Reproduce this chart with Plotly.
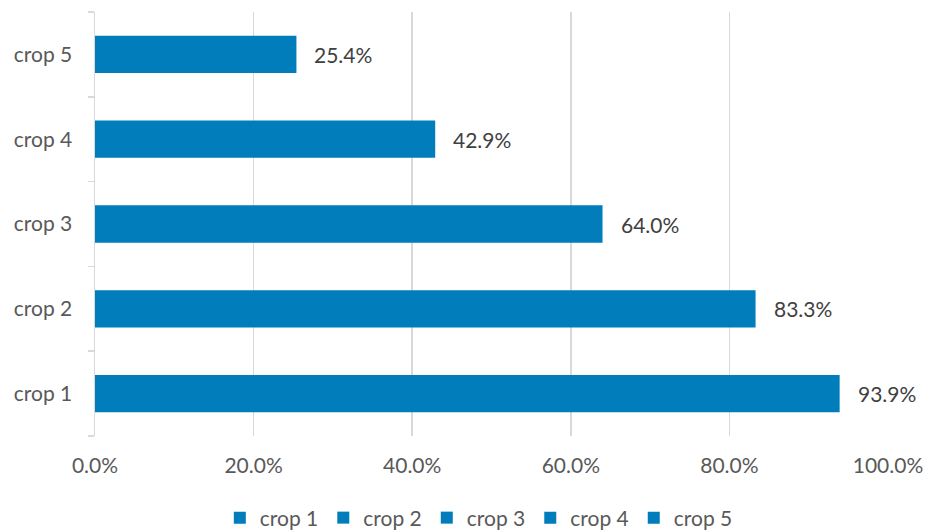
import plotly.graph_objects as go

categories = ["crop 1", "crop 2", "crop 3", "crop 4", "crop 5"]
values = [0.939, 0.833, 0.640, 0.429, 0.254]
labels = ["93.9%", "83.3%", "64.0%", "42.9%", "25.4%"]
x_ticks = [0, 0.2, 0.4, 0.6, 0.8, 1.0]
x_tick_labels = ["0.0%", "20.0%", "40.0%", "60.0%", "80.0%", "100.0%"]

BAR = "#007DBA"
FONT = "Lato"
FS = 21

fig = go.Figure()
for cat, val in zip(categories, values):
    fig.add_trace(go.Bar(
        x=[val], y=[cat], name=cat, orientation="h",
        marker=dict(color=BAR, line=dict(width=0)),
        width=0.44,
    ))

for cat, val, lab in zip(categories, values, labels):
    fig.add_annotation(
        x=val, y=cat, text=lab, showarrow=False,
        xanchor="left", xshift=16,
        font=dict(family=FONT, size=FS, color="#404040"),
    )

fig.update_layout(
    width=928, height=532,
    margin=dict(l=95, r=40, t=12, b=95.5, autoexpand=False),
    paper_bgcolor="white", plot_bgcolor="white",
    barmode="overlay",
    font=dict(family=FONT, size=FS, color="#595959"),
    showlegend=True,
    legend=dict(
        orientation="h", x=0.484, xanchor="center",
        y=-0.145, yanchor="top",
        font=dict(family=FONT, size=FS, color="#595959"),
        traceorder="normal", itemwidth=30,
    ),
    xaxis=dict(
        range=[0, 1], tickvals=x_ticks, ticktext=x_tick_labels,
        showgrid=True, gridcolor="#D9D9D9", gridwidth=1.5,
        zeroline=False, showline=False, ticks="",
        tickangle=0, automargin=False,
        ticklabelstandoff=15,
        tickfont=dict(family=FONT, size=FS, color="#595959"),
        fixedrange=True,
    ),
    yaxis=dict(
        categoryorder="array", categoryarray=categories,
        showline=True, linecolor="#D9D9D9", linewidth=1.5,
        ticks="outside", ticklen=6, tickcolor="#D9D9D9", tickwidth=1.5,
        tickson="boundaries", showgrid=False, zeroline=False,
        ticklabelstandoff=17, automargin=False,
        tickfont=dict(family=FONT, size=FS, color="#595959"),
        fixedrange=True,
    ),
)

fig.write_html(
    "out.html",
    config={"displayModeBar": False, "staticPlot": True},
    post_script="document.body.style.margin='0px';document.body.style.overflow='hidden';",
)
